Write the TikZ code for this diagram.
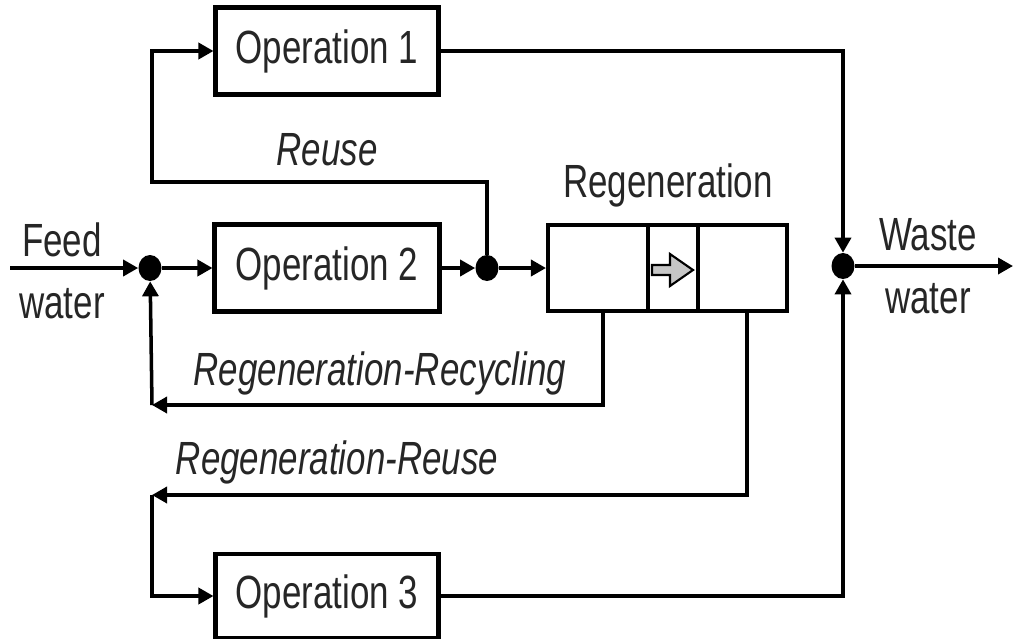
\documentclass[tikz,border=0pt]{standalone}
\usepackage{fontspec}
\setmainfont[FakeStretch=0.75]{Liberation Sans}
\usetikzlibrary{arrows.meta,positioning,shapes.geometric}

\tikzset{
  flow/.style={line width=2pt, -{Triangle[length=3mm,width=3.2mm]}},
  opbox/.style={draw, line width=2.3pt, minimum width=45mm, minimum height=17.4mm, inner sep=0pt},
  regbox/.style={draw, line width=2.3pt, minimum height=17.2mm, inner sep=0pt},
  junc/.style={ellipse, fill, inner sep=0pt, minimum width=4.6mm, minimum height=5.2mm},
  lab/.style={inner sep=0pt, text=black!85, font=\fontsize{26.5}{30}\selectfont},
  flowlab/.style={lab, font=\fontsize{26.5}{30}\selectfont\itshape}
}

\begin{document}
\begin{tikzpicture}[x=0.2mm, y=-0.2mm]
\useasboundingbox (0,0) rectangle (1013,638);

% operations
\node[opbox, minimum width=44.6mm] (op1) at (327,51)  {};
\node[opbox] (op2) at (327,268) {};
\node[opbox, minimum width=44.6mm, minimum height=16.8mm] (op3) at (327,596) {};
\node[lab] at (op1) {Operation 1};
\node[lab] at (op2) {Operation 2};
\node[lab] at (op3) {Operation 3};

% regeneration unit
\node[regbox, minimum width=20mm] (rga) at (598,268) {};
\node[regbox, minimum width=10mm] (rgb) at (673,268) {};
\node[regbox, minimum width=17.8mm] (rgc) at (742.5,268) {};
\draw[line width=1.2pt, fill=gray!45] (652,265) -- (670,265) -- (670,254) -- (693,270)
  -- (670,286) -- (670,275) -- (652,275) -- cycle;
\node[lab] (reglab) at (668,185) {Regeneration};

% junctions
\node[junc] (jf) at (150,268) {};
\node[junc] (jr) at (487,268) {};
\node[junc] (jw) at (843,266) {};

\coordinate (fin)  at (10,268);
\coordinate (wout) at (1013,266);
\coordinate (ru)   at (487,182);
\coordinate (rl)   at (152,182);
\coordinate (o1l)  at (152,51);
\coordinate (rct)  at (603,310);
\coordinate (rcb)  at (603,405);
\coordinate (rcl)  at (152,405);
\coordinate (rrt)  at (747,310);
\coordinate (rrb)  at (747,495);
\coordinate (rrl)  at (152,495);
\coordinate (o3l)  at (152,596);
\coordinate (o1r)  at (843,51);
\coordinate (o3r)  at (843,596);

% main line
\draw[flow] (fin) -- (jf);
\draw[flow] (jf) -- (op2.west);
\draw[flow] (op2.east) -- (jr);
\draw[flow] (jr) -- (rga.west);
\draw[flow] (jw) -- (wout);

% reuse
\draw[flow] (jr) -- (ru) -- (rl) -- (o1l) -- (op1.west);

% regeneration-recycling
\draw[flow] (rct) -- (rcb) -- (rcl);
\draw[flow] (rcl) -- (jf);

% regeneration-reuse
\draw[flow] (rrt) -- (rrb) -- (rrl);
\draw[flow] (rrl) -- (o3l) -- (op3.west);

% to waste
\draw[flow] (op1.east) -- (o1r) -- (jw);
\draw[flow] (op3.east) -- (o3r) -- (jw);

% labels
\node[lab] (feed)  at (62,240) {Feed};
\node[lab] (feedw) at (62,304) {water};
\node[lab] (waste) at (928,235) {Waste};
\node[lab] (wastw) at (928,299) {water};
\node[flowlab] (reuse) at (327,150) {Reuse};
\node[flowlab] (recyc) at (380,373) {Regeneration-Recycling};
\node[flowlab] (regre) at (337,462) {Regeneration-Reuse};
\end{tikzpicture}
\end{document}
